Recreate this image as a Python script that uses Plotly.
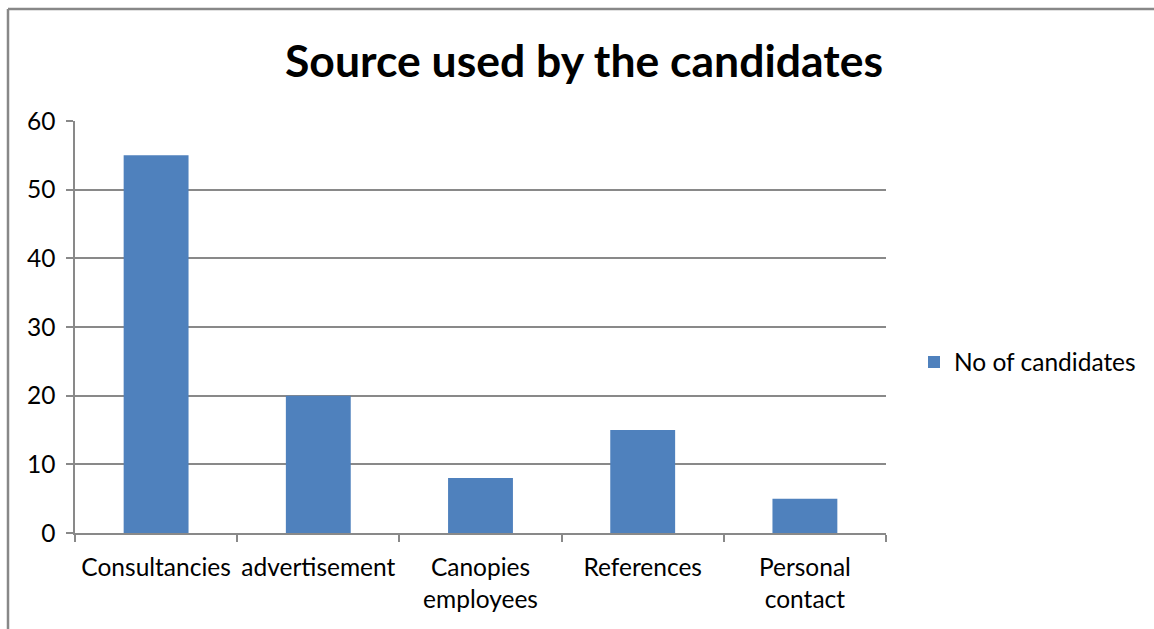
import plotly.graph_objects as go

categories = ["Consultancies", "advertisement", "Canopies<br>employees", "References", "Personal<br>contact"]
candidates = [55, 20, 8, 15, 5]
y_ticks = [0, 10, 20, 30, 40, 50, 60]

W, H = 1154, 629
L, R, T, B = 75, 886, 121, 533  # plot area in pixels


def px_x(px):
    return (px - L) / (R - L)


def px_y(py):
    return (B - py) / (B - T)


font_family = "Lato, 'Open Sans', sans-serif"
grid = "#898989"

fig = go.Figure(
    go.Bar(
        x=categories,
        y=candidates,
        name="No of candidates",
        marker=dict(color="#4F81BD", line=dict(width=0)),
    )
)

fig.update_layout(
    width=W,
    height=H,
    margin=dict(l=L, r=W - R, t=T, b=H - B, pad=0, autoexpand=False),
    paper_bgcolor="white",
    plot_bgcolor="white",
    bargap=0.6,
    showlegend=True,
    font=dict(family=font_family, color="black"),
    title=dict(
        text="<b>Source used by the candidates</b>",
        x=(584) / W,
        xanchor="center",
        y=1 - 61 / H,
        yanchor="middle",
        font=dict(size=44.5, family=font_family, color="black"),
    ),
    legend=dict(
        x=px_x(914),
        y=px_y(362),
        xanchor="left",
        yanchor="middle",
        font=dict(size=24.5, family=font_family),
        itemwidth=30,
        bgcolor="rgba(0,0,0,0)",
    ),
    xaxis=dict(
        type="category",
        showline=True,
        linecolor=grid,
        linewidth=1.5,
        ticks="outside",
        tickson="boundaries",
        ticklen=7,
        tickcolor=grid,
        tickwidth=1.5,
        showgrid=False,
        tickangle=0,
        automargin=False,
        tickfont=dict(size=24.5, family=font_family),
        ticklabelstandoff=12,
        fixedrange=True,
    ),
    yaxis=dict(
        range=[0, 60],
        tickvals=y_ticks,
        showline=True,
        linecolor=grid,
        linewidth=1.5,
        ticks="outside",
        ticklen=7,
        tickcolor=grid,
        tickwidth=1.5,
        showgrid=True,
        gridcolor=grid,
        gridwidth=1.5,
        zeroline=False,
        automargin=False,
        tickfont=dict(size=24.5, family=font_family),
        ticklabelstandoff=6,
        fixedrange=True,
    ),
)

# chart frame: left and top edges
fig.add_shape(type="line", xref="paper", yref="paper",
              x0=px_x(8), x1=px_x(W + 5), y0=px_y(9), y1=px_y(9),
              line=dict(color="#888888", width=2.5))
fig.add_shape(type="line", xref="paper", yref="paper",
              x0=px_x(8), x1=px_x(8), y0=px_y(9), y1=px_y(H + 5),
              line=dict(color="#888888", width=2.5))

fig.write_html("out.html")
